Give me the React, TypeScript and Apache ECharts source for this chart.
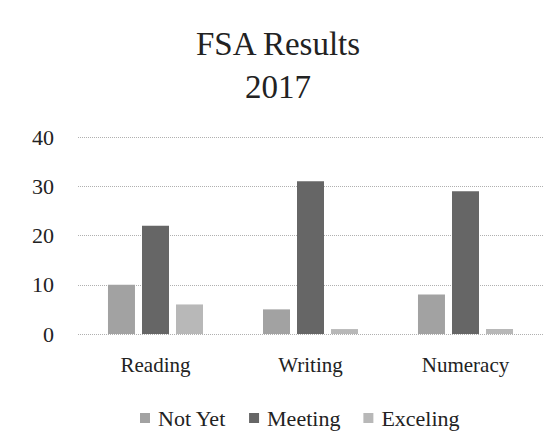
import React, { useEffect, useRef } from "react";
import * as echarts from "echarts";

const categories = ["Reading", "Writing", "Numeracy"];
const notYet = [10, 5, 8];
const meeting = [22, 31, 29];
const exceling = [6, 1, 1];
const seriesNames = ["Not Yet", "Meeting", "Exceling"];

const FONT = "Liberation Serif";

export default function App() {
  const ref = useRef<HTMLDivElement>(null);
  useEffect(() => {
    if (!ref.current) return;
    const chart = echarts.init(ref.current, undefined, { renderer: "svg" });
    chart.setOption({
      animation: false,
      backgroundColor: "#ffffff",
      color: ["#a2a2a2", "#666666", "#b8b8b8"],
      title: {
        text: "FSA Results\n2017",
        left: 273,
        textAlign: "center",
        top: 17,
        textStyle: {
          fontFamily: FONT,
          fontSize: 33,
          fontWeight: "normal",
          color: "#222",
          lineHeight: 43,
        },
      },
      legend: {
        data: seriesNames,
        top: 402,
        left: 135,
        itemWidth: 10,
        itemHeight: 10,
        itemGap: 23,
        icon: "rect",
        textStyle: { fontFamily: FONT, fontSize: 22, color: "#222", padding: [0, 0, 0, 3] },
      },
      grid: { left: 78, right: 13, top: 137, bottom: 98, containLabel: false },
      xAxis: {
        type: "category",
        data: categories,
        axisLine: { show: false },
        axisTick: { show: false },
        axisLabel: { fontFamily: FONT, fontSize: 21, color: "#222", margin: 20 },
      },
      yAxis: {
        type: "value",
        min: 0,
        max: 40,
        interval: 10,
        axisLine: { show: false },
        axisTick: { show: false },
        axisLabel: { fontFamily: FONT, fontSize: 22, color: "#222", margin: 24 },
        splitLine: { lineStyle: { type: "dotted", color: "#b0b0b0", width: 1 } },
      },
      series: [
        { name: seriesNames[0], type: "bar", data: notYet, barWidth: 27, barGap: "26%" },
        { name: seriesNames[1], type: "bar", data: meeting, barWidth: 27, barGap: "26%" },
        { name: seriesNames[2], type: "bar", data: exceling, barWidth: 27, barGap: "26%" },
      ],
    });
    return () => chart.dispose();
  }, []);
  return (
    <div
      ref={ref}
      style={{ position: "absolute", left: 0, top: 0, width: 556, height: 432 }}
    />
  );
}
